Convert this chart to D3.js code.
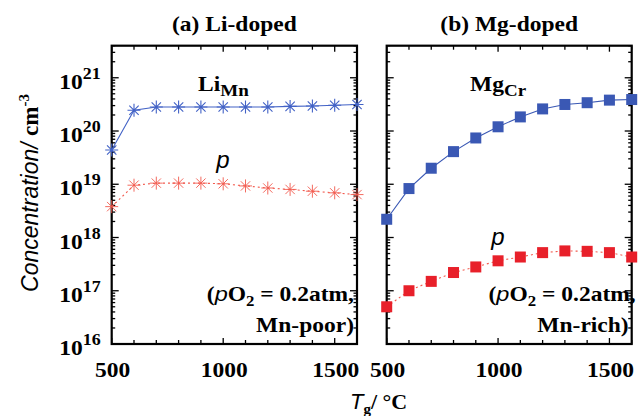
<!DOCTYPE html>
<html>
<head>
<meta charset="utf-8">
<script src="https://cdn.jsdelivr.net/npm/d3@7"></script>
<style>
  body { margin: 0; background: #fff; }
  svg { display: block; }
  .serif { font-family: "Liberation Serif", "Times New Roman", serif; font-weight: bold; }
  .sans { font-family: "Liberation Sans", Arial, sans-serif; font-style: italic; font-weight: normal; }
</style>
</head>
<body>
<script>
// growth temperature (°C)
const temps = [500, 600, 700, 800, 900, 1000, 1100, 1200, 1300, 1400, 1500, 1600];
// (a) Li-doped
const liMn = [4.4e19, 2.45e20, 2.83e20, 2.83e20, 2.83e20, 2.83e20, 2.83e20, 2.83e20, 2.9e20, 2.95e20, 3.05e20, 3.14e20];
const pLi = [3.8e18, 9.6e18, 1.05e19, 1.05e19, 1.05e19, 1.02e19, 9.3e18, 8.5e18, 8.0e18, 7.4e18, 6.9e18, 6.4e18];
// (b) Mg-doped
const mgCr = [2.2e18, 8.3e18, 2.0e19, 4.1e19, 7.4e19, 1.2e20, 1.84e20, 2.6e20, 3.15e20, 3.4e20, 3.8e20, 3.9e20];
const pMg = [5.0e16, 1.0e17, 1.5e17, 2.2e17, 2.8e17, 3.65e17, 4.3e17, 5.2e17, 5.6e17, 5.5e17, 5.2e17, 4.3e17];

const xTicks = [500, 1000, 1500];
const yTicks = [1e16, 1e17, 1e18, 1e19, 1e20, 1e21];

const width = 638, height = 416;
const plotTop = 45.7, plotBottom = 344;
const sx = 1.12; // the original lettering is a bit wide

const svg = d3.select("body").append("svg")
    .attr("width", width)
    .attr("height", height);

const blue = "#4262c6", red = "#f25a4e", redSq = "#e8202a", blueSq = "#3a58b4";

function asterisk(s) {
    let d = s * 0.72;
    return "M" + (-s) + ",0H" + s + "M0," + (-s) + "V" + s +
        "M" + (-d) + "," + (-d) + "L" + d + "," + d +
        "M" + (-d) + "," + d + "L" + d + "," + (-d);
}

// wide serif label
function label(parent, x, y, size, anchor) {
    return parent.append("text").attr("class", "serif")
        .attr("transform", "translate(" + x + "," + y + ") scale(" + sx + ",1)")
        .attr("text-anchor", anchor || "start")
        .attr("font-size", size);
}

function drawPanel(cfg) {
    let x = d3.scaleLinear().domain([500, 1600]).range([cfg.left, cfg.right]);
    let y = d3.scaleLog().domain([1e16, 4e21]).range([plotBottom, plotTop]);
    let g = svg.append("g");

    // ticks every 100 on x
    d3.range(500, 1601, 100).forEach(function (t) {
        let len = xTicks.indexOf(t) >= 0 ? 6 : 4;
        g.append("line").attr("x1", x(t)).attr("x2", x(t)).attr("y1", plotBottom).attr("y2", plotBottom - len)
            .attr("stroke", "#000").attr("stroke-width", 1.3);
        g.append("line").attr("x1", x(t)).attr("x2", x(t)).attr("y1", plotTop).attr("y2", plotTop + len)
            .attr("stroke", "#000").attr("stroke-width", 1.3);
    });
    // log ticks on y
    yTicks.forEach(function (t) {
        let vals = [t];
        for (let k = 2; k <= 9; k++) vals.push(t * k);
        vals.forEach(function (v, j) {
            if (v > 4e21) return;
            let len = j === 0 ? 7 : 3.5;
            g.append("line").attr("x1", cfg.left).attr("x2", cfg.left + len).attr("y1", y(v)).attr("y2", y(v))
                .attr("stroke", "#000").attr("stroke-width", 1.3);
            g.append("line").attr("x1", cfg.right).attr("x2", cfg.right - len).attr("y1", y(v)).attr("y2", y(v))
                .attr("stroke", "#000").attr("stroke-width", 1.3);
        });
    });

    // frame
    g.append("rect").attr("x", cfg.left).attr("y", plotTop)
        .attr("width", cfg.right - cfg.left).attr("height", plotBottom - plotTop)
        .attr("fill", "none").attr("stroke", "#000").attr("stroke-width", 2.2);

    // x tick labels
    xTicks.forEach(function (t) {
        label(g, x(t) + 1, 377, 21, "middle").text(t);
    });

    // y tick labels
    if (cfg.yLabels) {
        yTicks.forEach(function (t) {
            let txt = label(g, cfg.left - 11, y(t) + 11, 21, "end");
            txt.append("tspan").text("10");
            txt.append("tspan").attr("dy", -10).attr("font-size", 16).text(Math.round(Math.log10(t)));
        });
    }

    // title
    label(g, (cfg.left + cfg.right) / 2, 31, 21, "middle").text(cfg.title);

    let line = d3.line().x(function (d, i) { return x(temps[i]); }).y(function (d) { return y(d); });

    // dopant line
    g.append("path").datum(cfg.dopant).attr("d", line).attr("fill", "none")
        .attr("stroke", cfg.marker === "ast" ? blue : blueSq).attr("stroke-width", 1.1);
    // hole line (dotted)
    g.append("path").datum(cfg.holes).attr("d", line).attr("fill", "none")
        .attr("stroke", red).attr("stroke-width", 1.1).attr("stroke-dasharray", "2,3");

    if (cfg.marker === "ast") {
        g.selectAll(".astB").data(cfg.dopant).enter().append("path")
            .attr("transform", function (d, i) { return "translate(" + x(temps[i]) + "," + y(d) + ")"; })
            .attr("d", asterisk(6.5)).attr("stroke", blue).attr("stroke-width", 1.1).attr("fill", "none");
        g.selectAll(".astR").data(cfg.holes).enter().append("path")
            .attr("transform", function (d, i) { return "translate(" + x(temps[i]) + "," + y(d) + ")"; })
            .attr("d", asterisk(6.5)).attr("stroke", red).attr("stroke-width", 0.9).attr("fill", "none");
    } else {
        let s = 11;
        g.selectAll(".sqB").data(cfg.dopant).enter().append("rect")
            .attr("x", function (d, i) { return x(temps[i]) - s / 2; })
            .attr("y", function (d) { return y(d) - s / 2; })
            .attr("width", s).attr("height", s).attr("fill", blueSq);
        g.selectAll(".sqR").data(cfg.holes).enter().append("rect")
            .attr("x", function (d, i) { return x(temps[i]) - s / 2; })
            .attr("y", function (d) { return y(d) - s / 2; })
            .attr("width", s).attr("height", s).attr("fill", redSq);
    }

    // species label
    let sp = label(g, cfg.spX, 91, 21);
    sp.append("tspan").text(cfg.species[0]);
    sp.append("tspan").attr("dy", 5).attr("font-size", 17).text(cfg.species[1]);

    // hole label
    g.append("text").attr("class", "sans").attr("x", cfg.pX).attr("y", cfg.pY)
        .attr("text-anchor", "middle").attr("font-size", 24).text("p");

    // condition note
    let n1 = label(g, cfg.right + cfg.noteDx, 301, 21, "end");
    n1.append("tspan").text("(");
    n1.append("tspan").attr("class", "sans").text("p");
    n1.append("tspan").text("O");
    n1.append("tspan").attr("dy", 5).attr("font-size", 15).text("2");
    n1.append("tspan").attr("dy", -5).text(" = 0.2atm,");
    label(g, cfg.right - 3, 332, 21, "end").text(cfg.note);
}

drawPanel({
    left: 111.7, right: 357, title: "(a) Li-doped", yLabels: true,
    dopant: liMn, holes: pLi, marker: "ast",
    species: ["Li", "Mn"], spX: 198, pX: 223, pY: 168,
    noteDx: -3, note: "Mn-poor)"
});
drawPanel({
    left: 386.7, right: 631.7, title: "(b) Mg-doped", yLabels: false,
    dopant: mgCr, holes: pMg, marker: "sq",
    species: ["Mg", "Cr"], spX: 470, pX: 498, pY: 245,
    noteDx: 4, note: "Mn-rich)"
});

// y axis title
let yt = svg.append("text").attr("transform", "translate(38,193) rotate(-90)")
    .attr("text-anchor", "middle").attr("font-size", 23);
yt.append("tspan").attr("class", "sans").text("Concentration/ ");
yt.append("tspan").attr("class", "serif").text("cm");
yt.append("tspan").attr("class", "serif").attr("dy", -9).attr("font-size", 15).text("-3");

// x axis title
let xt = svg.append("text").attr("x", 350).attr("y", 409).attr("font-size", 22);
xt.append("tspan").attr("class", "sans").text("T");
xt.append("tspan").attr("class", "serif").attr("dy", 5).attr("font-size", 15).text("g");
xt.append("tspan").attr("class", "serif").attr("dy", -5).text("/ °C");
</script>
</body>
</html>
